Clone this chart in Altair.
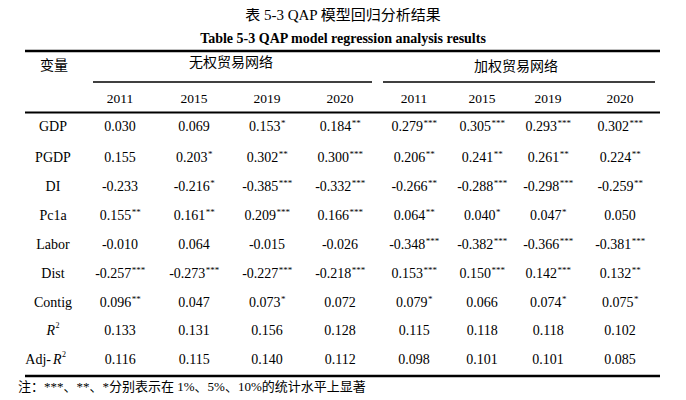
import altair as alt
import pandas as pd

# ---------------- data ----------------
title_cn = "表 5-3 QAP 模型回归分析结果"
title_en = "Table 5-3 QAP model regression analysis results"
var_header = "变量"
group_names = ["无权贸易网络", "加权贸易网络"]
years = ["2011", "2015", "2019", "2020"]
variables = ["GDP", "PGDP", "DI", "Pc1a", "Labor", "Dist", "Contig", "R2", "Adj-R2"]

unweighted = [
    ["0.030", "0.069", "0.153*", "0.184**"],
    ["0.155", "0.203*", "0.302**", "0.300***"],
    ["-0.233", "-0.216*", "-0.385***", "-0.332***"],
    ["0.155**", "0.161**", "0.209***", "0.166***"],
    ["-0.010", "0.064", "-0.015", "-0.026"],
    ["-0.257***", "-0.273***", "-0.227***", "-0.218***"],
    ["0.096**", "0.047", "0.073*", "0.072"],
    ["0.133", "0.131", "0.156", "0.128"],
    ["0.116", "0.115", "0.140", "0.112"],
]
weighted = [
    ["0.279***", "0.305***", "0.293***", "0.302***"],
    ["0.206**", "0.241**", "0.261**", "0.224**"],
    ["-0.266**", "-0.288***", "-0.298***", "-0.259**"],
    ["0.064**", "0.040*", "0.047*", "0.050"],
    ["-0.348***", "-0.382***", "-0.366***", "-0.381***"],
    ["0.153***", "0.150***", "0.142***", "0.132**"],
    ["0.079*", "0.066", "0.074*", "0.075*"],
    ["0.115", "0.118", "0.118", "0.102"],
    ["0.098", "0.101", "0.101", "0.085"],
]
note = "注：***、**、*分别表示在 1%、5%、10%的统计水平上显著"

# ---------------- layout ----------------
W, H = 670, 384
FONT = "Liberation Serif, 'Noto Sans CJK SC'"
col_x = [120, 194, 267, 340, 414, 482, 548, 620]
row_y = [126, 157, 186, 215, 244, 273, 302, 330, 359]
label_x = 53
FS = 14
STAR_FS = 9

xs = alt.Scale(domain=[8, 8 + W], range=[0, W])
ys = alt.Scale(domain=[8, 8 + H], range=[0, H])


def X(f="x"):
    return alt.X(f"{f}:Q", scale=xs, axis=None)


def Y(f="y"):
    return alt.Y(f"{f}:Q", scale=ys, axis=None)


def text_layer(df, size=FS, align="center", weight="normal", style="normal", dy=0, font=FONT):
    return alt.Chart(df).mark_text(
        font=font, fontSize=size, align=align, baseline="middle",
        fontWeight=weight, fontStyle=style, dy=dy, color="#000"
    ).encode(x=X(), y=Y(), text="t:N")


def num_width(s):
    w = 0.0
    for ch in s:
        if ch.isdigit():
            w += 0.5
        elif ch == ".":
            w += 0.25
        elif ch == "-":
            w += 0.333
    return w * FS


# cells
num_rows, star_rows = [], []
for i, v in enumerate(variables):
    vals = unweighted[i] + weighted[i]
    for j, s in enumerate(vals):
        num = s.rstrip("*")
        stars = s[len(num):]
        wn = num_width(num)
        ws = len(stars) * 0.5 * STAR_FS
        anchor = col_x[j] + (wn - ws) / 2
        num_rows.append({"x": anchor, "y": row_y[i], "t": num})
        if stars:
            star_rows.append({"x": anchor + 0.5, "y": row_y[i], "t": stars})

nums = text_layer(pd.DataFrame(num_rows), align="right")
stars_l = text_layer(pd.DataFrame(star_rows), size=STAR_FS, align="left", dy=-4)

# row labels
plain_labels = pd.DataFrame(
    [{"x": label_x, "y": row_y[i], "t": v} for i, v in enumerate(variables[:7])]
)
labels = text_layer(plain_labels)
r2_parts = [
    text_layer(pd.DataFrame([{"x": 55, "y": row_y[7], "t": "R"}]), align="right", style="italic"),
    text_layer(pd.DataFrame([{"x": 55.5, "y": row_y[7], "t": "2"}]), size=8, align="left", dy=-5),
    text_layer(pd.DataFrame([{"x": 51, "y": row_y[8], "t": "Adj-"}]), align="right"),
    text_layer(pd.DataFrame([{"x": 53, "y": row_y[8], "t": "R"}]), align="left", style="italic"),
    text_layer(pd.DataFrame([{"x": 62, "y": row_y[8], "t": "2"}]), size=8, align="left", dy=-5),
]

# headers
header_df = pd.DataFrame(
    [{"x": 54, "y": 65, "t": var_header},
     {"x": 231, "y": 62, "t": group_names[0]},
     {"x": 516, "y": 66, "t": group_names[1]}]
)
headers = text_layer(header_df, size=14)
year_df = pd.DataFrame(
    [{"x": col_x[j], "y": 98, "t": years[j % 4]} for j in range(8)]
)
year_t = text_layer(year_df, size=13.5)

titles = alt.layer(
    text_layer(pd.DataFrame([{"x": 343, "y": 14, "t": title_cn}]), size=15),
    text_layer(pd.DataFrame([{"x": 343, "y": 38, "t": title_en}]), size=14, weight="bold"),
)

note_t = text_layer(pd.DataFrame([{"x": 18, "y": 386, "t": note}]), size=13, align="left")

# rules
def rules(df, sw):
    return alt.Chart(df).mark_rule(color="#000", strokeWidth=sw).encode(
        x=X(), x2="x2:Q", y=Y()
    )

thick = rules(pd.DataFrame([
    {"x": 25, "x2": 660, "y": 50},
    {"x": 25, "x2": 660, "y": 375},
]), 2.6)
mid = rules(pd.DataFrame([{"x": 25, "x2": 660, "y": 111.5}]), 2.0)
part = rules(pd.DataFrame([
    {"x": 93, "x2": 372, "y": 81},
    {"x": 383, "x2": 655, "y": 81},
]), 1.7)

chart = alt.layer(
    titles, thick, mid, part, headers, year_t, labels, *r2_parts, nums, stars_l, note_t
).properties(width=W, height=H, padding=0).configure_view(stroke=None)

chart.save("out.html", embed_options={"renderer": "svg", "actions": False})
